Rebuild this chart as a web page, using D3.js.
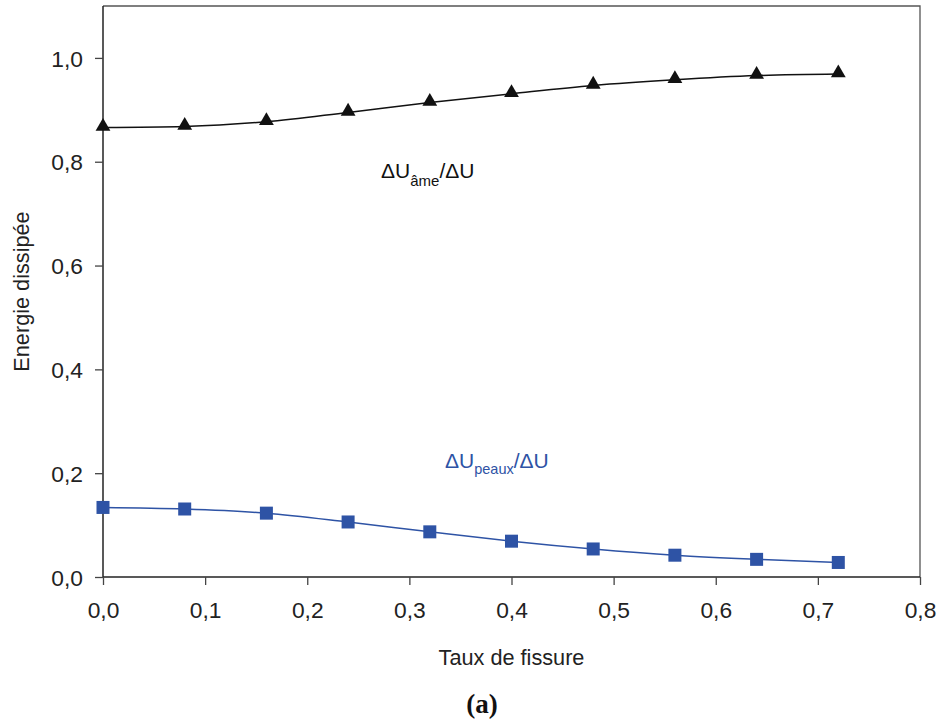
<!DOCTYPE html>
<html><head><meta charset="utf-8">
<script src="https://cdn.jsdelivr.net/npm/d3@7"></script>
<style>body{margin:0;background:#fff}svg{display:block}</style>
</head><body><svg id="c" width="938" height="721"></svg>
<script>
const taux = [0, 0.08, 0.16, 0.24, 0.32, 0.40, 0.48, 0.56, 0.64, 0.72];
const ame = [0.866, 0.868, 0.877, 0.895, 0.914, 0.931, 0.947, 0.958, 0.966, 0.969];
const peaux = [0.134, 0.131, 0.123, 0.106, 0.087, 0.069, 0.054, 0.042, 0.034, 0.028];
const xTicks = [0, 0.1, 0.2, 0.3, 0.4, 0.5, 0.6, 0.7, 0.8];
const yTicks = [0, 0.2, 0.4, 0.6, 0.8, 1.0];

const SANS = "Liberation Sans, Arial, sans-serif";
const SERIF = "Liberation Serif, Times New Roman, serif";
const BLUE = "#2E53A5";

const svg = d3.select("#c");
const L = 103, R = 920, T = 6, B = 577;
const x = d3.scaleLinear().domain([0, 0.8]).range([L, R]);
const y = d3.scaleLinear().domain([0, 1.1]).range([B, T]);
const fmt = d => d3.format(".1f")(d).replace(".", ",");

// frame (top & right)
svg.append("path").attr("d", `M${L},${T}H${R}V${B}`).attr("fill","none").attr("stroke","#555").attr("stroke-width",1.3);

const xa = svg.append("g").attr("transform", `translate(0,${B})`)
  .call(d3.axisBottom(x).tickValues(xTicks).tickFormat(fmt).tickSize(8).tickSizeOuter(0));
const ya = svg.append("g").attr("transform", `translate(${L},0)`)
  .call(d3.axisLeft(y).tickValues(yTicks).tickFormat(fmt).tickSize(8).tickSizeOuter(0));
[xa, ya].forEach(a => {
  a.attr("font-family", SANS).attr("font-size", 22.8);
  a.selectAll("path.domain").attr("stroke","#222").attr("stroke-width",1.5);
  a.selectAll(".tick line").attr("stroke","#444").attr("stroke-width",1.3);
  a.selectAll("text").attr("fill","#222");
});
xa.selectAll(".tick text").attr("dy", 30);
ya.selectAll(".tick text").attr("dx", -9).attr("dy", "0.36em");
ya.select("path.domain").attr("d", `M0,${B}V${T}`);
xa.select("path.domain").attr("d", `M${L},0H${R}`);

const line = d3.line().x((d,i)=>x(taux[i])).y(d=>y(d)).curve(d3.curveMonotoneX);
svg.append("path").datum(ame).attr("d", line).attr("fill","none").attr("stroke","#111").attr("stroke-width",1.5);
svg.append("path").datum(peaux).attr("d", line).attr("fill","none").attr("stroke",BLUE).attr("stroke-width",1.5);

const tri = d3.symbol().type(d3.symbolTriangle).size(95);
svg.append("g").selectAll("path").data(ame).join("path")
  .attr("transform",(d,i)=>`translate(${x(taux[i])},${y(d)-1})`).attr("d",tri()).attr("fill","#111");
svg.append("g").selectAll("rect").data(peaux).join("rect")
  .attr("x",(d,i)=>x(taux[i])-6.5).attr("y",d=>y(d)-6.5).attr("width",13).attr("height",13).attr("fill",BLUE);

// labels
const t1 = svg.append("text").attr("x",381).attr("y",177.5).attr("font-size",21).attr("font-family",SANS).attr("fill","#111");
t1.append("tspan").text("ΔU");
t1.append("tspan").attr("font-size",15).attr("dy",8).text("âme");
t1.append("tspan").attr("dy",-8).text("/ΔU");
const t2 = svg.append("text").attr("x",445).attr("y",467.5).attr("font-size",21).attr("font-family",SANS).attr("fill",BLUE);
t2.append("tspan").text("ΔU");
t2.append("tspan").attr("font-size",14.5).attr("dy",6).text("peaux");
t2.append("tspan").attr("dy",-6).text("/ΔU");

svg.append("text").attr("x",(L+R)/2).attr("y",665).attr("text-anchor","middle").attr("font-size",21.7).attr("font-family",SANS).attr("fill","#222").text("Taux de fissure");
svg.append("text").attr("transform",`translate(28.5,${(T+B)/2}) rotate(-90)`).attr("text-anchor","middle").attr("font-size",21.7).attr("font-family",SANS).attr("fill","#222").text("Energie dissipée");
svg.append("text").attr("x",482).attr("y",713).attr("text-anchor","middle").attr("font-size",27).attr("font-weight","bold").attr("font-family",SERIF).attr("fill","#111").text("(a)");
</script></body></html>
